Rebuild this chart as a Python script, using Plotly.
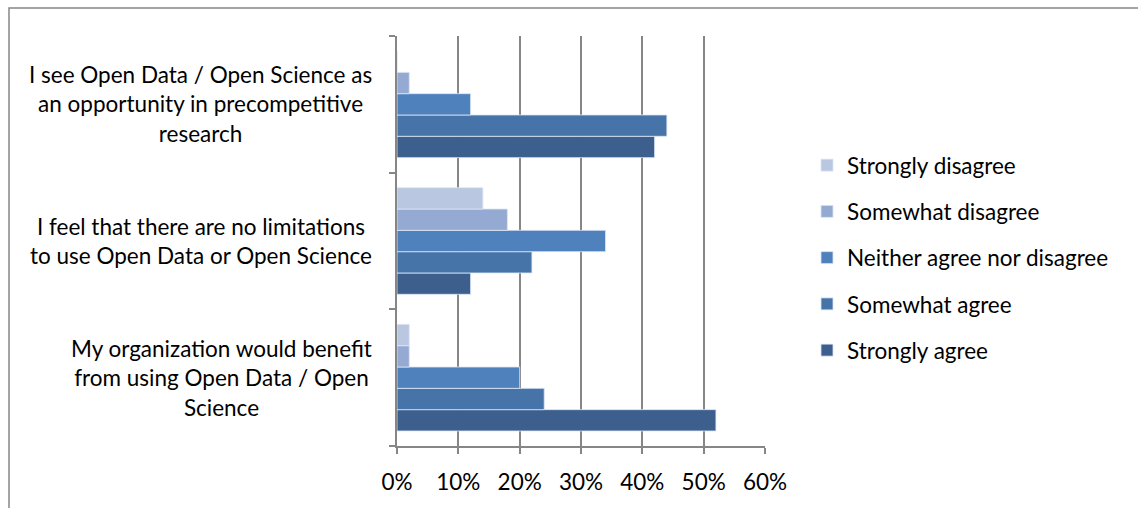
import plotly.graph_objects as go

categories = [
    "My organization would benefit<br>from using Open Data / Open<br>Science",
    "I feel that there are no limitations<br>to use Open Data or Open Science",
    "I see Open Data / Open Science as<br>an opportunity in precompetitive<br>research",
]
series_names = ["Strongly disagree", "Somewhat disagree", "Neither agree nor disagree",
                "Somewhat agree", "Strongly agree"]
strongly_disagree = [0.02, 0.14, 0.00]
somewhat_disagree = [0.02, 0.18, 0.02]
neither = [0.20, 0.34, 0.12]
somewhat_agree = [0.24, 0.22, 0.44]
strongly_agree = [0.52, 0.12, 0.42]
tick_vals = [0, 0.1, 0.2, 0.3, 0.4, 0.5, 0.6]
tick_text = ["0%", "10%", "20%", "30%", "40%", "50%", "60%"]

colors = ["#B9C7E1", "#95AAD2", "#4F81BD", "#4674A8", "#3C5F8E"]
values = [strongly_disagree, somewhat_disagree, neither, somewhat_agree, strongly_agree]

FONT = "Lato"
FS = 22.5
fig = go.Figure()
for i in reversed(range(5)):
    fig.add_trace(go.Bar(
        y=categories, x=values[i], name=series_names[i], orientation="h",
        marker=dict(color=colors[i], line=dict(color="rgba(220,230,245,0.8)", width=1)),
        legendgroup=series_names[i], legendrank=i + 1,
    ))

L, R, T, B = 397, 373, 36, 62
W, H = 1138, 508
pw, ph = W - L - R, H - T - B

for cat in categories:
    fig.add_annotation(
        x=(374 - L) / pw, xref="paper", y=cat, yref="y",
        xanchor="right", yanchor="middle", align="center", showarrow=False,
        text=cat, font=dict(family=FONT, size=FS, color="#000000"),
    )

fig.add_shape(type="rect", xref="paper", yref="paper",
              x0=(9 - L) / pw, x1=(W + 5 - L) / pw,
              y0=-(B + 5) / ph, y1=(H - B - 8) / ph,
              line=dict(color="#868686", width=1.5), fillcolor="rgba(0,0,0,0)", layer="below")

fig.update_layout(
    width=W, height=H,
    margin=dict(l=L, r=R, t=T, b=B),
    paper_bgcolor="white", plot_bgcolor="white",
    barmode="group", bargap=0.22, bargroupgap=0,
    font=dict(family=FONT, size=FS, color="#000000"),
    showlegend=True,
    legend=dict(traceorder="grouped", x=(807 - L) / pw, xanchor="left",
                y=(446 - 258) / ph, yanchor="middle", font=dict(family=FONT, size=FS),
                tracegroupgap=14, bgcolor="rgba(0,0,0,0)"),
    xaxis=dict(range=[0, 0.6], tickvals=tick_vals, ticktext=tick_text,
               showgrid=True, gridcolor="#868686", gridwidth=1.5,
               showline=True, linecolor="#868686", linewidth=1.5,
               ticks="outside", ticklen=6, tickcolor="#868686", tickwidth=1.5,
               ticklabelstandoff=9,
               zeroline=False, tickfont=dict(family=FONT, size=FS)),
    yaxis=dict(showticklabels=False, showline=True, linecolor="#868686", linewidth=1.5,
               ticks="outside", ticklen=6, tickcolor="#868686", tickwidth=1.5,
               tickson="boundaries", showgrid=False, zeroline=False),
)
fig.write_html("out.html")
